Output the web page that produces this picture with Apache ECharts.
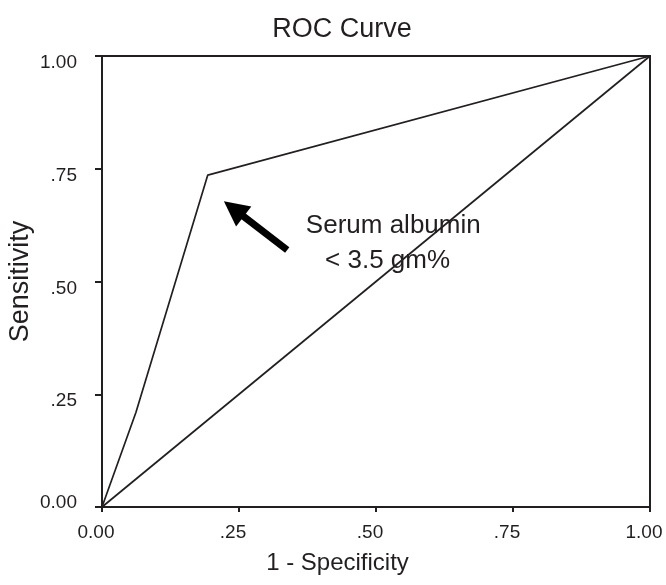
<!DOCTYPE html>
<html>
<head>
<meta charset="utf-8">
<script src="https://cdn.jsdelivr.net/npm/echarts@6/dist/echarts.min.js"></script>
<style>
html,body{margin:0;padding:0;background:#fff;}
#chart{width:666px;height:585px;}
</style>
</head>
<body>
<div id="chart"></div>
<script>
// ---- data ----
const titleText = 'ROC Curve';
const xAxisName = '1 - Specificity';
const yAxisName = 'Sensitivity';
const xTickLabels = ['0.00', '.25', '.50', '.75', '1.00'];
const yTickLabels = ['0.00', '.25', '.50', '.75', '1.00'];
const rocX = [0, 0.062, 0.193, 1];
const rocY = [0, 0.21, 0.736, 1];
const refX = [0, 1];
const refY = [0, 1];
const noteLines = ['Serum albumin', '< 3.5 gm%'];
const noteX = [0.372, 0.407];
const noteY = [0.624, 0.545];
const arrowFrom = [0.338, 0.570];
const arrowTo = [0.2405, 0.661];

const ink = '#231f20';
const font = '"Liberation Sans", Arial, sans-serif';

const chart = echarts.init(document.getElementById('chart'), null, {renderer: 'canvas'});
const toPairs = (xs, ys) => xs.map((x, i) => [x, ys[i]]);

chart.setOption({
  animation: false,
  backgroundColor: '#fff',
  title: {
    text: titleText,
    left: 337,
    textAlign: 'center',
    top: 11,
    textStyle: {fontFamily: font, fontSize: 27, fontWeight: 'normal', color: ink}
  },
  grid: {
    left: 102, right: 16, top: 56, bottom: 78,
    containLabel: false,
    outerBoundsMode: 'none',
    show: true, borderColor: ink, borderWidth: 2, backgroundColor: 'transparent'
  },
  xAxis: {
    type: 'value', min: 0, max: 1, interval: 0.25,
    name: xAxisName, nameLocation: 'middle', nameGap: 44, nameMoveOverlap: false,
    nameTextStyle: {fontFamily: font, fontSize: 24, color: ink, padding: [0, 77, 0, 0]},
    axisLine: {show: true, lineStyle: {color: ink, width: 2}},
    axisTick: {show: true, inside: false, length: 5, lineStyle: {color: ink, width: 2}},
    axisLabel: {
      fontFamily: font, fontSize: 19, color: ink, margin: 16, padding: [0, 12, 0, 0],
      formatter: v => xTickLabels[Math.round(v / 0.25)]
    },
    splitLine: {show: false}
  },
  yAxis: {
    type: 'value', min: 0, max: 1, interval: 0.25,
    name: yAxisName, nameLocation: 'middle', nameGap: 68, nameRotate: 90, nameMoveOverlap: false,
    nameTextStyle: {fontFamily: font, fontSize: 27, color: ink},
    axisLine: {show: true, lineStyle: {color: ink, width: 2}},
    axisTick: {show: true, inside: false, length: 7, lineStyle: {color: ink, width: 2}},
    axisLabel: {
      fontFamily: font, fontSize: 19, color: ink, margin: 25,
      formatter: v => {
        const t = yTickLabels[Math.round(v / 0.25)];
        return v === 0 ? '{z|' + t + '}' : '{n|' + t + '}';
      },
      rich: {
        n: {fontFamily: font, fontSize: 19, color: ink, padding: [14, 0, 0, 0]},
        z: {fontFamily: font, fontSize: 19, color: ink, padding: [0, 0, 8, 0]}
      }
    },
    splitLine: {show: false}
  },
  series: [
    {
      type: 'line',
      data: toPairs(refX, refY),
      symbol: 'none',
      lineStyle: {color: ink, width: 1.7},
      silent: true
    },
    {
      type: 'line',
      data: toPairs(rocX, rocY),
      symbol: 'none',
      lineStyle: {color: ink, width: 1.7},
      silent: true,
      markPoint: {
        symbol: 'circle', symbolSize: 0, silent: true,
        label: {
          show: true, position: 'right', distance: 0,
          fontFamily: font, fontSize: 26, color: ink,
          formatter: p => p.name
        },
        data: noteLines.map((t, i) => ({name: t, coord: [noteX[i], noteY[i]]}))
      },
      markLine: {
        silent: true,
        symbol: ['none', 'triangle'],
        symbolSize: 25,
        label: {show: false},
        lineStyle: {color: '#000', width: 7, type: 'solid', cap: 'butt'},
        data: [[{coord: arrowFrom}, {coord: arrowTo}]]
      }
    }
  ]
});
</script>
</body>
</html>
